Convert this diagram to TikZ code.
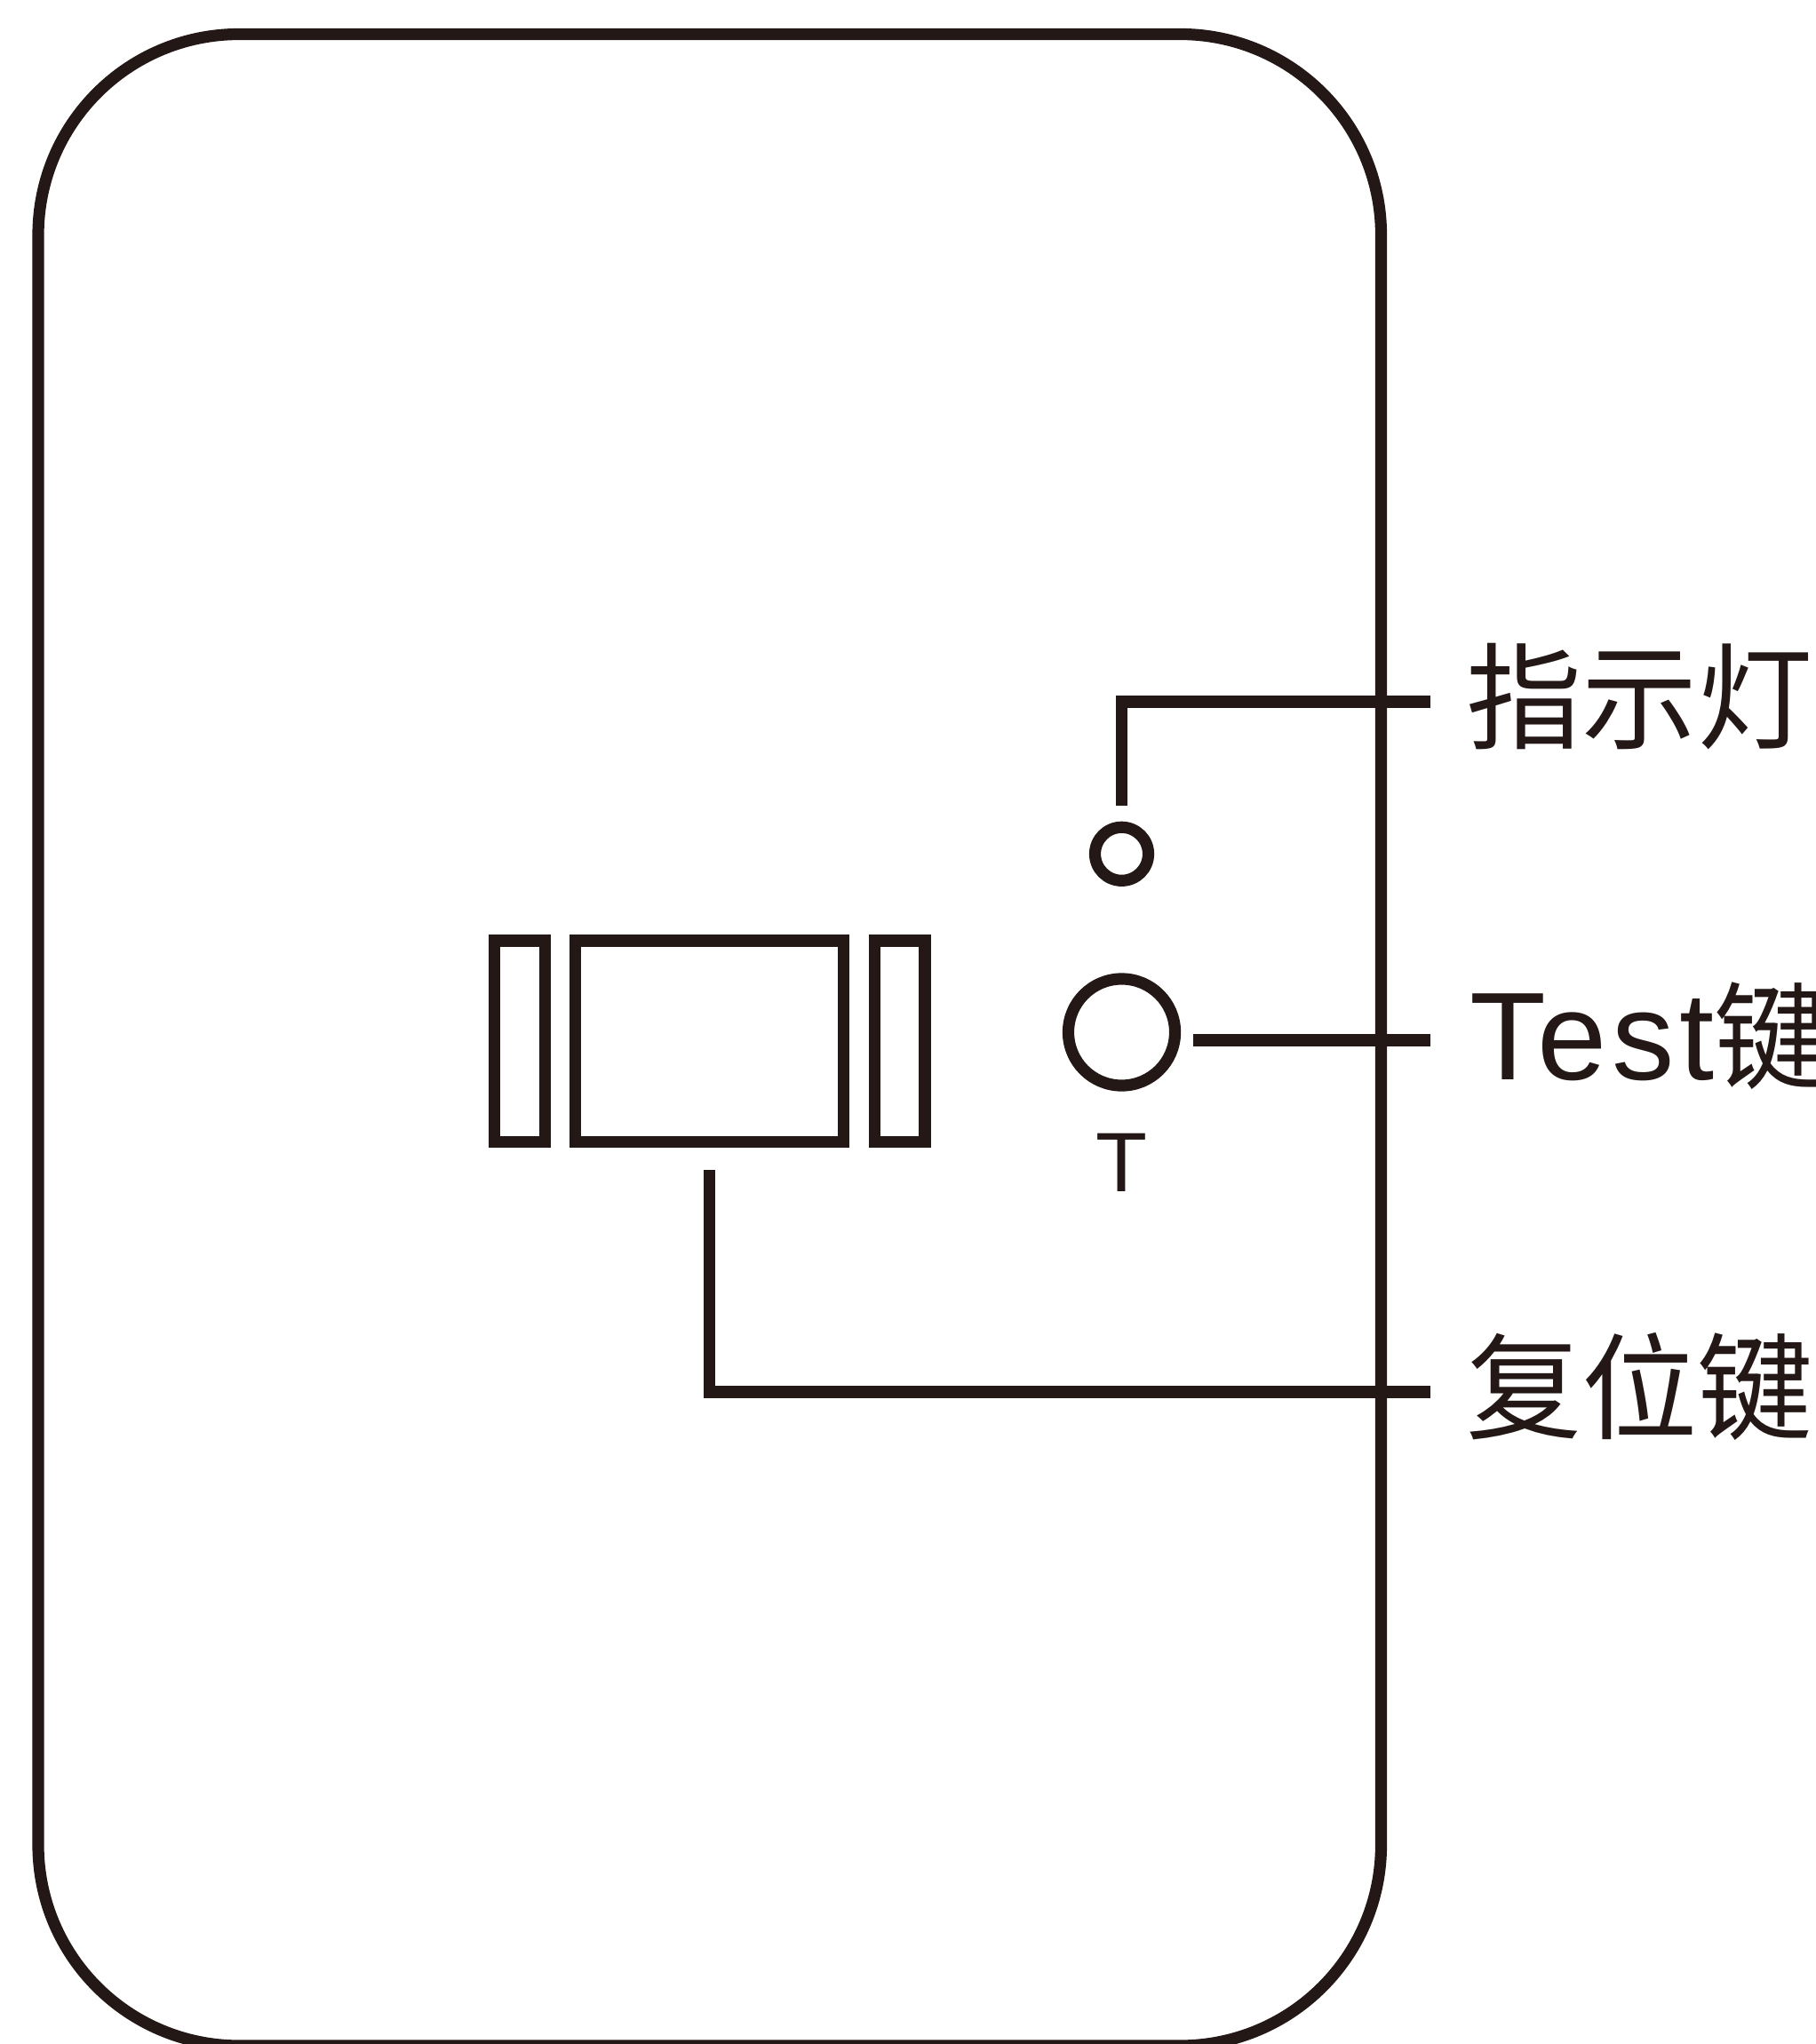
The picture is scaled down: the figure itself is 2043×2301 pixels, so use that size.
\documentclass[tikz,border=0pt]{standalone}
\usepackage{fontspec}
\setmainfont{Liberation Sans}
\newfontfamily\cjk{Noto Sans CJK SC}
\newfontfamily\widesans[LetterSpace=4]{Liberation Sans}
\usetikzlibrary{positioning}
\definecolor{ink}{HTML}{231815}
\tikzset{
	outline/.style={line width=3.75pt, color=ink, line join=miter},
	callout/.style={anchor=base west, inner sep=0pt, text=ink},
}

\begin{document}
\begin{tikzpicture}[x=0.01cm, y=-0.01cm]
		\useasboundingbox (0,0) rectangle (2043,2301);
		%%%%% START %%%%%
		
		\draw[outline, rounded corners=2.26cm] (43,38.5) rectangle (1554.5,2303);
		
		\draw[outline] (556.5,1059) rectangle (613.2,1285.7);
		\draw[outline] (647.5,1059) rectangle (949.7,1285.7);
		\draw[outline] (984.2,1059) rectangle (1041,1285.7);
		
		\node[outline, draw, circle, minimum size=0.6cm, inner sep=0pt] (led) at (1262.5,961.3) {};
		\node[outline, draw, circle, minimum size=1.2cm, inner sep=0pt] (testkey) at (1262.5,1162) {};
		\node[anchor=base, inner sep=0pt, text=ink, font=\fontsize{27}{27}\selectfont] (tmark) at (1262,1341.7) {T};
		
		\node[callout, font=\cjk\fontsize{37}{37}\selectfont] (ledlabel) at (1650,833) {指示灯};
		\node[callout, font=\widesans\fontsize{40}{40}\selectfont] (testlabel) at (1654,1215.7) {Test{\cjk\fontsize{37}{37}\selectfont 键}};
		\node[callout, font=\cjk\fontsize{37}{37}\selectfont] (resetlabel) at (1650,1610) {复位键};
		
		\coordinate (ledpin) at (1262.7,907);
		\coordinate (ledend) at (1610,790);
		\draw[outline] (ledpin) |- (ledend);
		
		\coordinate (testpin) at (1343,1171);
		\coordinate (testend) at (1610,1171);
		\draw[outline] (testpin) -- (testend);
		
		\coordinate (resetpin) at (798.3,1317);
		\coordinate (resetend) at (1610,1567);
		\draw[outline] (resetpin) |- (resetend);
		
		%%%%% END %%%%%
\end{tikzpicture}
\end{document}
